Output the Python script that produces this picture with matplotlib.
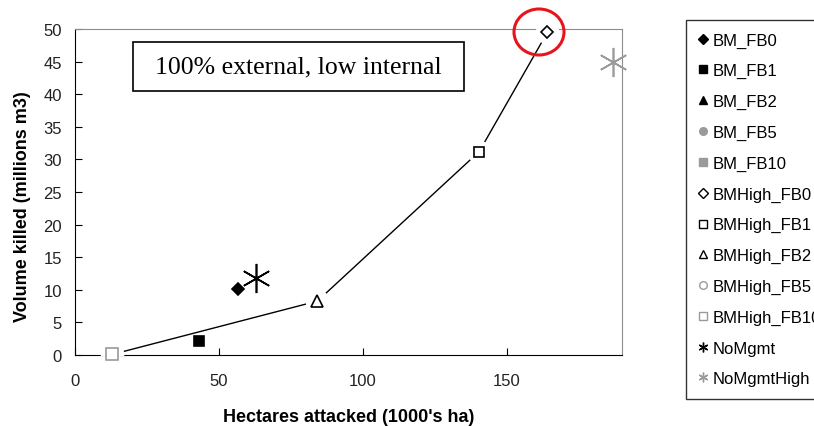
import matplotlib

matplotlib.use("Agg")

import matplotlib.pyplot as plt
from matplotlib.lines import Line2D
from matplotlib.patches import Ellipse, Rectangle

# values (x: 1000's ha, y: millions m3)
bm_fb0_x, bm_fb0_y = [56.7], [10.05]
bm_fb1_x, bm_fb1_y = [43.0], [2.14]
bm_fb2_x, bm_fb2_y = [], []
bm_fb5_x, bm_fb5_y = [], []
bm_fb10_x, bm_fb10_y = [], []
high_fb0_x, high_fb0_y = [164.1], [49.5]
high_fb1_x, high_fb1_y = [140.4], [31.2]
high_fb2_x, high_fb2_y = [84.2], [8.27]
high_fb5_x, high_fb5_y = [12.6], [0.1]
high_fb10_x, high_fb10_y = [13.0], [0.1]
nomgmt_x, nomgmt_y = [62.8], [11.8]
nomgmt_high_x, nomgmt_high_y = [186.9], [44.9]

# the connecting line runs through the BMHigh series in order of hectares
curve_x = high_fb10_x + high_fb2_x + high_fb1_x + high_fb0_x
curve_y = high_fb10_y + high_fb2_y + high_fb1_y + high_fb0_y

GRAY = "#9a9a9a"
STAR = (6, 2, 0)

plt.rcParams["font.family"] = ["Liberation Sans", "DejaVu Sans"]

fig = plt.figure(figsize=(8.14, 4.27), dpi=100)
ax = fig.add_axes([75 / 814, 1 - 356 / 427, (622 - 75) / 814, (356 - 30) / 427])

ax.plot(curve_x, curve_y, color="black", lw=1.0, zorder=2)
# white halos so the line stops short of each marker, as in the source
ax.plot(curve_x, curve_y, ls="none", marker="o", ms=17, mfc="white", mec="none", zorder=3)

series = [
    (bm_fb0_x, bm_fb0_y, "D", 6, "black", "black", "BM_FB0"),
    (bm_fb1_x, bm_fb1_y, "s", 7, "black", "black", "BM_FB1"),
    (bm_fb2_x, bm_fb2_y, "^", 7, "black", "black", "BM_FB2"),
    (bm_fb5_x, bm_fb5_y, "o", 6, GRAY, GRAY, "BM_FB5"),
    (bm_fb10_x, bm_fb10_y, "s", 6, GRAY, GRAY, "BM_FB10"),
    (high_fb0_x, high_fb0_y, "D", 6, "white", "black", "BMHigh_FB0"),
    (high_fb1_x, high_fb1_y, "s", 7, "white", "black", "BMHigh_FB1"),
    (high_fb2_x, high_fb2_y, "^", 8, "white", "black", "BMHigh_FB2"),
    (high_fb5_x, high_fb5_y, "o", 7, "white", GRAY, "BMHigh_FB5"),
    (high_fb10_x, high_fb10_y, "s", 8, "white", GRAY, "BMHigh_FB10"),
    (nomgmt_x, nomgmt_y, STAR, 21, "none", "black", "NoMgmt"),
    (nomgmt_high_x, nomgmt_high_y, STAR, 21, "none", GRAY, "NoMgmtHigh"),
]

handles = []
for xs, ys, mk, ms, fc, ec, label in series:
    ax.plot(xs, ys, ls="none", marker=mk, ms=ms, mfc=fc, mec=ec, mew=1.2, zorder=4,
            clip_on=False)
    legend_ms = 5.5 if mk != STAR else 7
    handles.append(Line2D([], [], ls="none", marker=mk, ms=legend_ms, mfc=fc, mec=ec,
                          mew=1.0, label=label))

ax.set_xlim(0, 190)
ax.set_ylim(0, 50)
ax.set_xticks([0, 50, 100, 150])
ax.set_yticks(range(0, 51, 5))
ax.tick_params(direction="in", length=5, labelsize=12, colors="black", labelcolor="#222222")
ax.tick_params(axis="y", pad=9.5)
ax.tick_params(axis="x", pad=13)
for side in ("top", "right"):
    ax.spines[side].set_color("#8c8c8c")
for side in ("left", "bottom"):
    ax.spines[side].set_color("black")

ax.set_xlabel("Hectares attacked (1000's ha)", fontsize=13, fontweight="bold")
ax.set_ylabel("Volume killed (millions m3)", fontsize=13, fontweight="bold")
ax.xaxis.set_label_coords(0.5, -0.163)
ax.yaxis.set_label_coords(-0.081, 0.459)

# annotation box
ax.add_patch(Rectangle((0.106, 0.810), 0.605, 0.150, transform=ax.transAxes, fill=True,
                       fc="white", ec="black", lw=1.2, zorder=5))
ax.text(0.4085, 0.885, "100% external, low internal", transform=ax.transAxes, ha="center",
        va="center", fontsize=18.5, family=["Liberation Serif", "DejaVu Serif"], zorder=6)

# red highlight ring around the top point
fig.add_artist(Ellipse((539 / 814, 1 - 33 / 427), 50 / 814, 46 / 427, fill=False,
                       ec="#e8141c", lw=2.2, transform=fig.transFigure))

fig.legend(handles=handles, loc="upper left", bbox_to_anchor=(686 / 814, 1 - 21 / 427),
           frameon=True, fancybox=False, edgecolor="black", fontsize=12,
           labelspacing=0.94, handlelength=0.5, handletextpad=0.35, borderpad=0.75,
           borderaxespad=0)

fig.savefig("out.png", dpi=100)
